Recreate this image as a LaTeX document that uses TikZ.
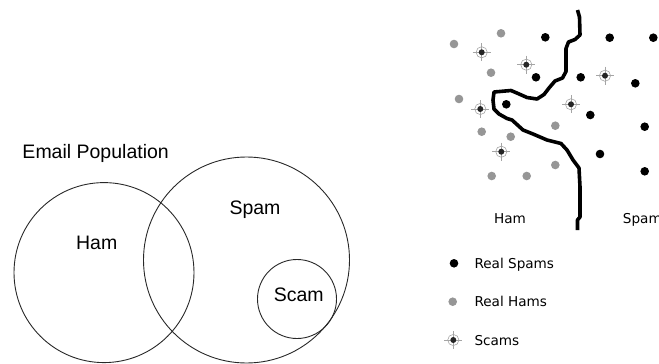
\documentclass[tikz,border=0pt]{standalone}
\usepackage{fontspec}
\setmainfont{Liberation Sans}
\newfontfamily\plotfont{DejaVu Sans}
\definecolor{hamgray}{RGB}{150,150,150}
\definecolor{ringgray}{RGB}{165,165,165}
\definecolor{setline}{RGB}{40,40,40}
\begin{document}
\begin{tikzpicture}[x=1pt,y=-1pt,
  setcircle/.style={circle,draw=setline,line width=0.9pt,inner sep=0pt,outer sep=0pt},
  setlabel/.style={font=\fontsize{19.5}{22}\selectfont,inner sep=0pt,anchor=base},
  plotlabel/.style={font=\plotfont\fontsize{13.6}{16}\selectfont,inner sep=0pt},
  spamdot/.style={circle,fill=black,inner sep=0pt,minimum size=8.6pt},
  hamdot/.style={circle,fill=hamgray,inner sep=0pt,minimum size=8.6pt},
  pics/scammark/.style={code={
    \draw[ringgray,line width=0.6pt] (0,0) circle (5.6);
    \draw[ringgray,line width=0.6pt] (-9,0) -- (9,0) (0,-9) -- (0,9);
    \fill[black!85] (0,0) circle (3);
  }},
  boundary/.style={line width=3.6pt,line join=round}]
\useasboundingbox (0,0) rectangle (659,364);
\clip (0,0) rectangle (659,364);

% ---- set diagram ----
\node[setlabel,anchor=base west] (poplabel) at (22.3,158.3) {Email Population};
\node[setcircle,minimum size=180pt] (hamset) at (104,272.6) {};
\node[setcircle,minimum size=206pt] (spamset) at (246.5,260) {};
\node[setcircle,minimum size=79pt] (scamset) at (297,299) {};
\node[setlabel] (hamname) at (96.7,249) {Ham};
\node[setlabel] (spamname) at (255,214.3) {Spam};
\node[setlabel] (scamname) at (298.7,301.7) {Scam};

% ---- scatter of messages ----
\foreach \i/\p in {1/{454,44},2/{501,33.3},3/{491,72.7},4/{459,99},5/{481.7,131.7},
                   6/{510.7,136.7},7/{555.3,125.7},8/{491.7,176},9/{526.7,176},10/{555.3,165}}
  \node[hamdot] (h\i) at (\p) {};
\foreach \i/\p in {1/{545.3,37.3},2/{609.7,37.7},3/{653.3,37.7},4/{536,77.3},5/{580.7,77.3},
                   6/{635.3,83.3},7/{506.3,104.3},8/{590.3,115},9/{644.7,126.7},10/{600,154},11/{644.7,171.3}}
  \node[spamdot] (s\i) at (\p) {};
\foreach \i/\p in {1/{481.7,52.3},2/{526.3,64.7},3/{605,75.7},4/{480.3,109},5/{571,104.3},6/{501.3,151.7}}
  \pic (c\i) at (\p) {scammark};

% decision boundary
\draw[boundary] (577.5,10) -- (579.5,17) -- (580,35) -- (575,39.5) -- (568.5,42) -- (566,48.5)
  -- (566,71.5) -- (562.5,78) -- (555,81) -- (549,88) -- (544,94.5) -- (537,99) -- (527,97.5)
  -- (518,93.5) -- (511,90.5) -- (494,92) -- (493,100) -- (494,109) -- (499,114) -- (507,118.5)
  -- (512,120) -- (523,130) -- (533,134) -- (547,140) -- (561,143.5) -- (567,150) -- (573,160)
  -- (579,168) -- (580,187) -- (580,217) -- (577.5,220) -- (577.5,230);

\node[plotlabel,anchor=base] (hamside) at (510,223.7) {Ham};
\node[plotlabel,anchor=base west] (spamside) at (622.7,223.7) {Spam};

% ---- legend ----
\node[spamdot] (keyspam) at (454,263.3) {};
\node[plotlabel,anchor=base west] (keyspamtext) at (474.3,268.3) {Real Spams};
\node[hamdot] (keyham) at (452.7,301.7) {};
\node[plotlabel,anchor=base west] (keyhamtext) at (474.3,306.7) {Real Hams};
\pic (keyscam) at (453.3,340) {scammark};
\node[plotlabel,anchor=base west] (keyscamtext) at (474.3,345) {Scams};
\end{tikzpicture}
\end{document}
